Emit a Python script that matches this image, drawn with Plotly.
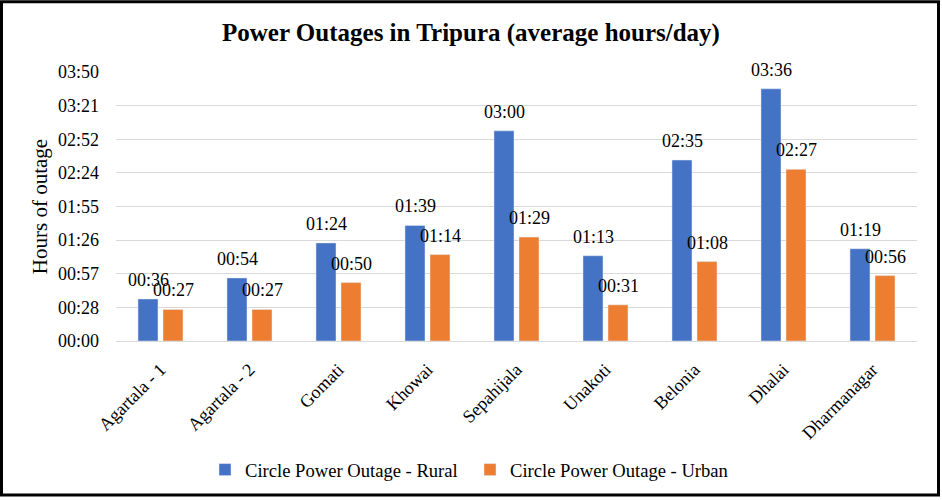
import plotly.graph_objects as go

categories = ["Agartala - 1", "Agartala - 2", "Gomati", "Khowai", "Sepahijala",
              "Unakoti", "Belonia", "Dhalai", "Dharmanagar"]
rural_minutes = [36, 54, 84, 99, 180, 73, 155, 216, 79]
urban_minutes = [27, 27, 50, 74, 89, 31, 68, 147, 56]
tick_minutes = [0, 28.8, 57.6, 86.4, 115.2, 144.0, 172.8, 201.6, 230.4]
tick_labels = ["00:00", "00:28", "00:57", "01:26", "01:55", "02:24", "02:52", "03:21", "03:50"]

def fmt(m):
    return f"{m // 60:02d}:{m % 60:02d}"

W, H = 942, 500
L, R, T, B = 116, 25, 72, 158
FONT = "Liberation Serif"
BLUE, ORANGE = "#4472C4", "#ED7D31"

fig = go.Figure()
fig.add_trace(go.Bar(x=categories, y=rural_minutes, name="Circle Power Outage - Rural",
                     marker_color=BLUE))
fig.add_trace(go.Bar(x=categories, y=urban_minutes, name="Circle Power Outage - Urban",
                     marker_color=ORANGE))

# data labels
for series, shift in ((rural_minutes, -12.5), (urban_minutes, 12.5)):
    for cat, v in zip(categories, series):
        fig.add_annotation(x=cat, y=v, text=fmt(v), showarrow=False,
                           xanchor="center", yanchor="bottom", xshift=shift, yshift=7,
                           font=dict(size=18, family=FONT, color="#000000"))

pw, ph = W - L - R, H - T - B
fig.add_shape(type="rect", xref="paper", yref="paper",
              x0=(1.5 - L) / pw, x1=(W - 3.5 - L) / pw,
              y0=-(H - 3.5 - T - ph) / ph, y1=1 + (T - 1.5) / ph,
              line=dict(color="black", width=3), layer="above")

fig.update_layout(
    width=W, height=H,
    margin=dict(l=L, r=R, t=T, b=B),
    paper_bgcolor="white", plot_bgcolor="white",
    font=dict(family=FONT, size=18, color="#000000"),
    title=dict(text="<b>Power Outages in Tripura (average hours/day)</b>",
               x=0.5, xanchor="center", y=1 - 32 / H, yanchor="middle",
               font=dict(size=25, family=FONT, color="#000000")),
    barmode="group", bargap=0.438, bargroupgap=0.2,
    showlegend=True,
    legend=dict(orientation="h", x=(205 - L) / pw, xanchor="left",
                y=-(470 - T - ph) / ph, yanchor="middle",
                font=dict(size=18.6, family=FONT, color="#000000"),
                itemwidth=30, entrywidth=220, entrywidthmode="pixels"),
    xaxis=dict(tickangle=-45, showline=True, linecolor="#d9d9d9", linewidth=1,
               ticks="", ticklabelstandoff=10,
               tickfont=dict(size=18, family=FONT, color="#000000")),
    yaxis=dict(range=[0, 230.4], tickvals=tick_minutes, ticktext=tick_labels,
               showgrid=True, gridcolor="#d9d9d9", gridwidth=1, zeroline=False,
               ticks="", ticklabelstandoff=16,
               tickfont=dict(size=18, family=FONT, color="#000000"),
               title=dict(text="Hours of outage", standoff=4,
                          font=dict(size=21, family=FONT, color="#000000"))),
)

fig.write_html("out.html", config={"displayModeBar": False},
               post_script="document.body.style.margin='0';")
